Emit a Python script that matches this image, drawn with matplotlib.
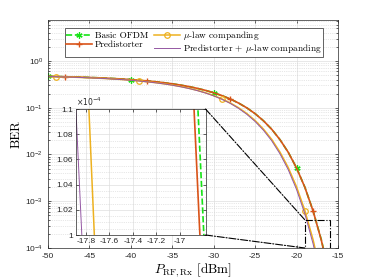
import numpy as np
import matplotlib
matplotlib.use('Agg')
import matplotlib.pyplot as plt
from matplotlib.font_manager import FontProperties
from matplotlib.patches import Rectangle, ConnectionPatch
from matplotlib.ticker import FixedLocator, FuncFormatter, AutoMinorLocator, LogLocator, NullFormatter

plt.rcParams['font.family'] = ['Liberation Sans', 'DejaVu Sans']
plt.rcParams['axes.unicode_minus'] = False

# received RF power grid [dBm]
power_dbm = np.arange(-50, -15, 1)

ber_basic = [0.4676, 0.4637, 0.4593, 0.4543, 0.4488, 0.4426, 0.4357, 0.4279, 0.4192, 0.4095,
             0.3987, 0.3867, 0.3733, 0.3585, 0.3420, 0.3240, 0.3043, 0.2827, 0.2595, 0.2347,
             0.2084, 0.1812, 0.1534, 0.1257, 0.0991, 0.0744, 0.0526, 0.0346, 0.0207, 0.0111,
             0.00515, 0.00200, 6.2e-4, 1.48e-4, 2.5e-5]
ber_predist = [0.4676, 0.4637, 0.4593, 0.4543, 0.4488, 0.4426, 0.4357, 0.4279, 0.4192, 0.4095,
               0.3987, 0.3867, 0.3733, 0.3585, 0.3420, 0.3240, 0.3043, 0.2827, 0.2595, 0.2347,
               0.2084, 0.1812, 0.1534, 0.1257, 0.0991, 0.0744, 0.0526, 0.0346, 0.0207, 0.0111,
               0.00513, 0.00199, 6.15e-4, 1.44e-4, 2.37e-5]
ber_mulaw = [0.4638, 0.4594, 0.4545, 0.4489, 0.4427, 0.4358, 0.4280, 0.4194, 0.4097, 0.3989,
             0.3869, 0.3735, 0.3587, 0.3423, 0.3244, 0.3047, 0.2832, 0.2600, 0.2352, 0.2090,
             0.1818, 0.1539, 0.1263, 0.0997, 0.0749, 0.0531, 0.0349, 0.0210, 0.01122, 0.00522,
             0.00203, 6.32e-4, 1.49e-4, 2.47e-5, 2.6e-6]
ber_both = [0.4633, 0.4589, 0.4539, 0.4483, 0.4420, 0.4350, 0.4271, 0.4183, 0.4085, 0.3976,
            0.3854, 0.3719, 0.3569, 0.3403, 0.3222, 0.3023, 0.2806, 0.2573, 0.2323, 0.2060,
            0.1787, 0.1509, 0.1234, 0.0967, 0.0721, 0.0507, 0.0330, 0.0196, 0.0103, 0.00471,
            0.00178, 5.40e-4, 1.22e-4, 1.93e-5, 1.9e-6]

# zoomed detail around BER = 1e-4
zoom_ber = [1.12e-4, 0.98e-4]
zoom_basic = [-16.855, -16.784]
zoom_predist = [-16.888, -16.818]
zoom_mulaw = [-17.785, -17.720]
zoom_both = [-17.897, -17.826]

box_x = (-19, -16)
box_y = (1e-4, 4e-4)

c_green = '#16e316'
c_red = '#d95319'
c_orange = '#edb120'
c_purple = '#9457a3'

cm_small = FontProperties(family='cmr10', size=6.7, math_fontfamily='cm')
cm_label = FontProperties(family='cmr10', size=9.5, math_fontfamily='cm')

fig = plt.figure(figsize=(3.74, 2.8), dpi=100)
ax = fig.add_axes([0.1283, 0.1143, 0.7754, 0.8143])

ax.plot(power_dbm, ber_basic, '--', color=c_green, lw=1.2, marker=(6, 2, 0), ms=4.5, mew=0.9,
        markevery=slice(0, None, 10), label='Basic OFDM')
ax.plot(power_dbm, ber_predist, '-', color=c_red, lw=1.2, marker='+', ms=5, mew=1,
        markevery=slice(2, None, 10), label='Predistorter')
ax.plot(power_dbm, ber_mulaw, '-', color=c_orange, lw=1.1, marker='o', ms=4, mfc='none', mew=0.9,
        markevery=slice(1, None, 10), label=r'$\mu$-law companding')
ax.plot(power_dbm, ber_both, '-', color=c_purple, lw=0.7,
        label=r'Predistorter + $\mu$-law companding')

ax.set_yscale('log')
ax.set_xlim(-50, -15)
ax.set_ylim(1e-4, 7.5)
ax.set_xticks(np.arange(-50, -14, 5))
ax.yaxis.set_major_locator(LogLocator(base=10, numticks=10))
ax.yaxis.set_minor_locator(LogLocator(base=10, subs=np.arange(2, 10), numticks=20))
ax.yaxis.set_minor_formatter(NullFormatter())
ax.grid(True, which='major', color='#dedede', lw=0.5)
ax.grid(True, which='minor', axis='y', color='#d0d0d0', lw=0.5, ls=':')
ax.tick_params(which='both', direction='in', top=True, right=True, labelsize=6,
               colors='#262626', width=0.5)
ax.tick_params(which='major', length=2.5)
ax.tick_params(which='minor', length=1.5)
for s in ax.spines.values():
    s.set_linewidth(0.5)
    s.set_color('#262626')

ax.set_xlabel(r'$P_{\mathrm{RF,Rx}}$ [dBm]', fontproperties=cm_label, labelpad=1)
ax.set_ylabel('BER', fontproperties=cm_label, labelpad=2)

leg = ax.legend(ncol=2, loc='upper center', bbox_to_anchor=(0.502, 0.965), prop=cm_small,
                fancybox=False, framealpha=1, edgecolor='#262626', handlelength=2.8,
                columnspacing=0.6, handletextpad=0.3, borderpad=0.15, labelspacing=0.0,
                numpoints=1, borderaxespad=0)
leg.get_frame().set_linewidth(0.5)

ax.add_patch(Rectangle((box_x[0], box_y[0]), box_x[1] - box_x[0], box_y[1] - box_y[0],
                       fill=False, ls='-.', lw=0.8, ec='black', zorder=5))

# inset
axi = fig.add_axes([0.2019, 0.1607, 0.3476, 0.45])
axi.plot(zoom_both, zoom_ber, '-', color=c_purple, lw=0.7)
axi.plot(zoom_mulaw, zoom_ber, '-', color=c_orange, lw=1.1)
axi.plot(zoom_predist, zoom_ber, '-', color=c_red, lw=1.2)
axi.plot(zoom_basic, zoom_ber, '--', color=c_green, lw=1.2)
axi.set_xlim(-17.89, -16.78)
axi.set_ylim(1e-4, 1.1e-4)
axi.xaxis.set_major_locator(FixedLocator([-17.8, -17.6, -17.4, -17.2, -17.0]))
axi.xaxis.set_major_formatter(FuncFormatter(lambda v, p: f'{v:g}'))
axi.yaxis.set_major_locator(FixedLocator(np.linspace(1e-4, 1.1e-4, 6)))
axi.yaxis.set_major_formatter(FuncFormatter(lambda v, p: f'{round(v * 1e4, 3):g}'))
axi.yaxis.set_minor_locator(AutoMinorLocator(4))
axi.grid(True, which='major', color='#dedede', lw=0.5)
axi.grid(True, which='minor', axis='y', color='#d0d0d0', lw=0.5, ls=':')
axi.tick_params(which='both', direction='in', top=True, right=True, labelsize=6,
                colors='#262626', width=0.5, pad=2)
axi.tick_params(which='major', length=2)
axi.tick_params(which='minor', length=0)
for s in axi.spines.values():
    s.set_linewidth(0.5)
    s.set_color('#262626')
axi.text(0, 1.01, r'$\times10^{-4}$', transform=axi.transAxes, fontsize=5.5,
         color='#262626', va='bottom', ha='left')

for ya, yb in [(1, box_y[1]), (0, box_y[0])]:
    con = ConnectionPatch(xyA=(1, ya), coordsA=axi.transAxes, xyB=(box_x[0], yb),
                          coordsB=ax.transData, ls='-.', lw=0.8, color='black', zorder=6)
    fig.add_artist(con)

fig.savefig('out.png', dpi=100, facecolor='white')
